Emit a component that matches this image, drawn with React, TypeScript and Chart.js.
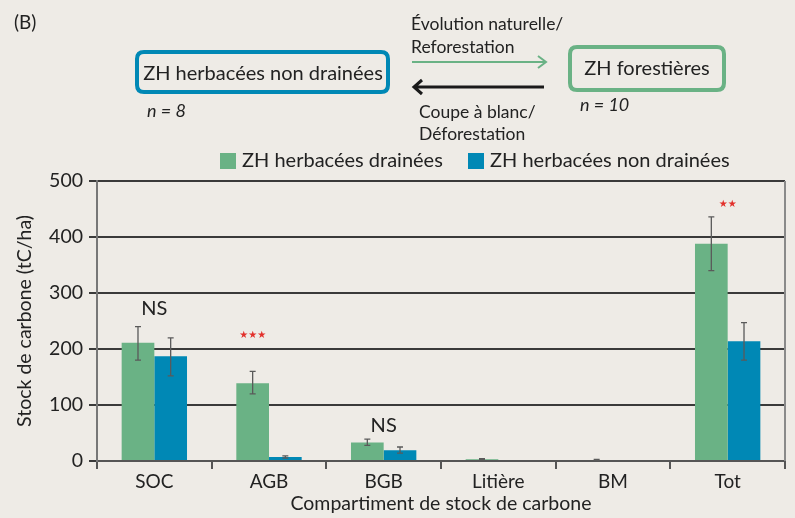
import React, { useEffect, useRef } from "react";
import { Chart, registerables } from "chart.js";

Chart.register(...registerables);

const categories = ["SOC", "AGB", "BGB", "Litière", "BM", "Tot"];
const drainedValues = [211, 139, 33, 3, 2, 388];
const drainedErrLow = [180, 120, 28, 2, 1, 340];
const drainedErrHigh = [240, 160, 39, 4, 3, 436];
const undrainedValues = [187, 7, 19, 0, 0, 214];
const undrainedErrLow = [152, 5, 14, 0, 0, 180];
const undrainedErrHigh = [220, 9, 25, 0, 0, 247];
const yTicks = [0, 100, 200, 300, 400, 500];
const annotationLabels = ["NS", "★★★", "NS", "", "", "★★"];
const annotationValues = [272, 225, 64, 0, 0, 459];
const annotationOffsets = [0, -1, 0, 0, 0, 0]; // -1: above first bar, 0: category center
const seriesLabels = ["ZH herbacées drainées", "ZH herbacées non drainées"];

const GREEN = "#6AB285";
const BLUE = "#0088B5";
const BG = "#EEEBE6";
const TEXT = "#222222";
const FONT = "Lato, 'Noto Sans', sans-serif";

const errorBarPlugin = {
  id: "errorBars",
  afterDatasetsDraw(chart: any) {
    const ctx = chart.ctx;
    const y = chart.scales.y;
    const errs = [
      [drainedErrLow, drainedErrHigh],
      [undrainedErrLow, undrainedErrHigh],
    ];
    ctx.save();
    ctx.strokeStyle = "#5a5a5a";
    ctx.lineWidth = 1.3;
    errs.forEach((pair, di) => {
      const meta = chart.getDatasetMeta(di);
      meta.data.forEach((bar: any, i: number) => {
        const lo = pair[0][i];
        const hi = pair[1][i];
        if (hi - lo <= 0) return;
        const x = bar.x;
        const y1 = y.getPixelForValue(lo);
        const y2 = y.getPixelForValue(hi);
        ctx.beginPath();
        ctx.moveTo(x, y1);
        ctx.lineTo(x, y2);
        ctx.moveTo(x - 3, y1);
        ctx.lineTo(x + 3, y1);
        ctx.moveTo(x - 3, y2);
        ctx.lineTo(x + 3, y2);
        ctx.stroke();
      });
    });
    ctx.restore();
  },
};

const annotationPlugin = {
  id: "annotations",
  afterDatasetsDraw(chart: any) {
    const ctx = chart.ctx;
    const xs = chart.scales.x;
    const ys = chart.scales.y;
    ctx.save();
    ctx.textAlign = "center";
    ctx.textBaseline = "middle";
    annotationLabels.forEach((lab, i) => {
      if (!lab) return;
      let x = xs.getPixelForValue(i);
      if (annotationOffsets[i] === -1) x = chart.getDatasetMeta(0).data[i].x;
      const yv = ys.getPixelForValue(annotationValues[i]);
      if (lab.includes("★")) {
        ctx.fillStyle = "#E2302B";
        ctx.font = `10px 'DejaVu Sans', sans-serif`;
      } else {
        ctx.fillStyle = TEXT;
        ctx.font = `20px ${FONT}`;
      }
      ctx.fillText(lab, x, yv);
    });
    ctx.restore();
  },
};

function roundRect(ctx: any, x: number, y: number, w: number, h: number, r: number) {
  ctx.beginPath();
  ctx.moveTo(x + r, y);
  ctx.lineTo(x + w - r, y);
  ctx.quadraticCurveTo(x + w, y, x + w, y + r);
  ctx.lineTo(x + w, y + h - r);
  ctx.quadraticCurveTo(x + w, y + h, x + w - r, y + h);
  ctx.lineTo(x + r, y + h);
  ctx.quadraticCurveTo(x, y + h, x, y + h - r);
  ctx.lineTo(x, y + r);
  ctx.quadraticCurveTo(x, y, x + r, y);
  ctx.closePath();
}

const decorPlugin = {
  id: "decor",
  beforeDraw(chart: any) {
    const ctx = chart.ctx;
    ctx.save();
    ctx.fillStyle = BG;
    ctx.fillRect(0, 0, chart.width, chart.height);
    ctx.restore();
  },
  afterDraw(chart: any) {
    const ctx = chart.ctx;
    const ca = chart.chartArea;
    ctx.save();
    // right border
    ctx.strokeStyle = "#8a8a8a";
    ctx.lineWidth = 2;
    ctx.beginPath();
    ctx.moveTo(ca.right, ca.top);
    ctx.lineTo(ca.right, ca.bottom);
    ctx.stroke();

    // legend
    ctx.textBaseline = "middle";
    ctx.textAlign = "left";
    ctx.font = `20px ${FONT}`;
    const legendY = 161;
    const items = [
      { x: 220, color: GREEN, text: seriesLabels[0] },
      { x: 468, color: BLUE, text: seriesLabels[1] },
    ];
    items.forEach((it) => {
      ctx.fillStyle = it.color;
      ctx.fillRect(it.x, legendY - 8, 16, 16);
      ctx.fillStyle = TEXT;
      ctx.fillText(it.text, it.x + 22, legendY);
    });

    // diagram
    ctx.fillStyle = TEXT;
    ctx.font = `19px ${FONT}`;
    ctx.textBaseline = "alphabetic";
    ctx.fillText("(B)", 14, 29);

    ctx.lineWidth = 4;
    ctx.strokeStyle = BLUE;
    roundRect(ctx, 137, 52, 251, 40, 7);
    ctx.stroke();
    ctx.strokeStyle = GREEN;
    roundRect(ctx, 570, 47, 154, 43, 7);
    ctx.stroke();

    ctx.font = `20px ${FONT}`;
    ctx.textAlign = "center";
    ctx.textBaseline = "middle";
    ctx.fillText("ZH herbacées non drainées", 263, 74);
    ctx.fillText("ZH forestières", 647, 69);

    ctx.textAlign = "left";
    ctx.textBaseline = "alphabetic";
    ctx.font = `17.5px ${FONT}`;
    ctx.fillText("Évolution naturelle/", 411, 30);
    ctx.fillText("Reforestation", 411, 53);
    ctx.fillText("Coupe à blanc/", 419, 118);
    ctx.fillText("Déforestation", 419, 140);
    ctx.font = `italic 18px ${FONT}`;
    ctx.fillText("n = 8", 147, 117);
    ctx.fillText("n = 10", 580, 111);

    // green arrow
    ctx.strokeStyle = GREEN;
    ctx.lineWidth = 2;
    ctx.beginPath();
    ctx.moveTo(412, 62);
    ctx.lineTo(546, 62);
    ctx.moveTo(538, 56);
    ctx.lineTo(546, 62);
    ctx.lineTo(538, 68);
    ctx.stroke();
    // black arrow
    ctx.strokeStyle = "#1a1a1a";
    ctx.lineWidth = 3;
    ctx.beginPath();
    ctx.moveTo(544, 87);
    ctx.lineTo(414, 87);
    ctx.moveTo(422, 80);
    ctx.lineTo(414, 87);
    ctx.lineTo(422, 94);
    ctx.stroke();
    ctx.restore();
  },
};

export default function App() {
  const ref = useRef<HTMLCanvasElement | null>(null);
  useEffect(() => {
    if (!ref.current) return;
    const chart = new Chart(ref.current, {
      type: "bar",
      data: {
        labels: categories,
        datasets: [
          {
            label: seriesLabels[0],
            data: drainedValues,
            backgroundColor: GREEN,
            categoryPercentage: 0.57,
            barPercentage: 1,
          },
          {
            label: seriesLabels[1],
            data: undrainedValues,
            backgroundColor: BLUE,
            categoryPercentage: 0.57,
            barPercentage: 1,
          },
        ],
      },
      options: {
        animation: false,
        responsive: false,
        maintainAspectRatio: false,
        layout: { padding: { top: 181, right: 10, left: 0, bottom: 0 } },
        plugins: {
          legend: { display: false },
          tooltip: { enabled: false },
        },
        scales: {
          x: {
            grid: {
              offset: true,
              drawOnChartArea: false,
              drawTicks: true,
              tickLength: 8,
              color: "#555",
              lineWidth: 2,
            },
            border: { display: true, color: "#555", width: 2 },
            ticks: {
              color: TEXT,
              font: { family: FONT, size: 19 },
              padding: 1,
            },
            title: {
              display: true,
              text: "Compartiment de stock de carbone",
              color: TEXT,
              font: { family: FONT, size: 19.5 },
              padding: { top: 0, bottom: 3 },
            },
            afterFit(scale: any) {
              scale.height = 57;
            },
          },
          y: {
            min: 0,
            max: 500,
            afterBuildTicks(scale: any) {
              scale.ticks = yTicks.map((v) => ({ value: v }));
            },
            grid: {
              color: "#3a3a3a",
              lineWidth: 2,
              tickLength: 8,
            },
            border: { display: true, color: "#777", width: 2 },
            ticks: {
              color: TEXT,
              font: { family: FONT, size: 19.5 },
              padding: 6,
            },
            title: {
              display: true,
              text: "Stock de carbone (tC/ha)",
              color: TEXT,
              font: { family: FONT, size: 19.5 },
              padding: { top: 13, bottom: 0 },
            },
            afterFit(scale: any) {
              scale.width = 97;
            },
          },
        },
      },
      plugins: [decorPlugin, errorBarPlugin, annotationPlugin],
    });
    return () => chart.destroy();
  }, []);
  return (
    <div style={{ position: "fixed", left: 0, top: 0, width: 795, height: 518 }}>
      <canvas ref={ref} width={795} height={518} style={{ display: "block" }} />
    </div>
  );
}
